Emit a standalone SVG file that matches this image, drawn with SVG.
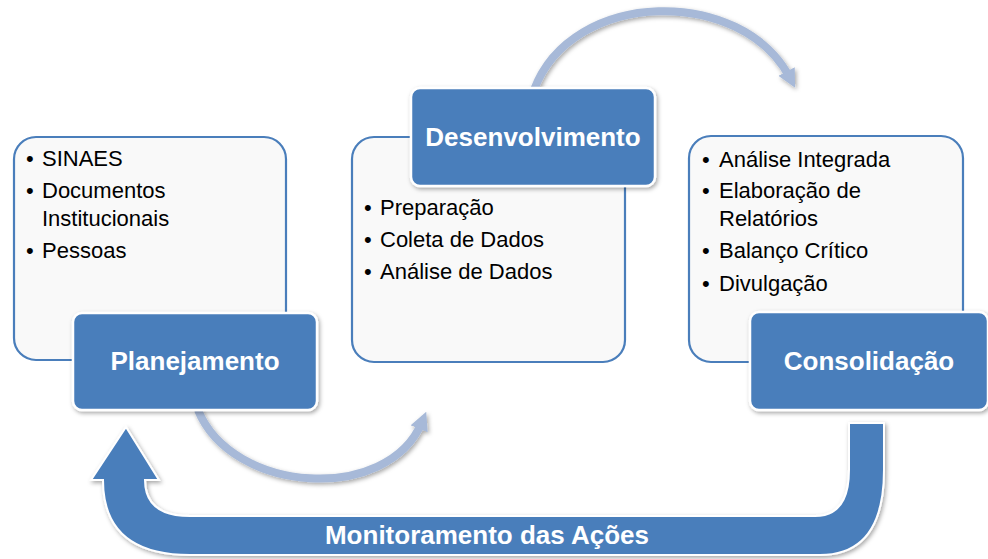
<svg xmlns="http://www.w3.org/2000/svg" width="988" height="559" viewBox="0 0 988 559">
<defs>
<style>
.panel{fill:#F9F9F9;stroke:#4A7EBB;stroke-width:2.2}
.title{fill:#4A7EBB;stroke:#FFFFFF;stroke-width:2.5}
.tt{font-family:"Liberation Sans",Arial,sans-serif;font-weight:bold;font-size:26px;fill:#FFFFFF;text-anchor:middle}
.bl{font-family:"Liberation Sans",Arial,sans-serif;font-size:22px;fill:#000000}
.arc{fill:none;stroke:#A7B9D8;stroke-width:8}
</style>
<filter id="sh" x="-10%" y="-10%" width="130%" height="130%">
<feDropShadow dx="1.5" dy="2" stdDeviation="2" flood-color="#000" flood-opacity="0.35"/>
</filter>
<marker id="ah" viewBox="0 0 10 10" refX="4" refY="5" markerWidth="2.3" markerHeight="2.3" orient="auto" markerUnits="strokeWidth">
<path d="M0,0 L10,5 L0,10 z" fill="#A7B9D8"/>
</marker>
</defs>

<g id="connectors">
<path class="arc" d="M534,90 C572,-12 742,-14 790,78" marker-end="url(#ah)" filter="url(#sh)"/>
<path class="arc" d="M198,410 C232,494 388,504 422,422" marker-end="url(#ah)" filter="url(#sh)"/>
<path id="monitor-arrow" d="M884,423 L884,470 Q884,555 820,555 L190,555 Q103,555 103,480 L91,480 L126,427 L159,480 L145,480 Q145,516 190,516 L815,516 Q849,516 849,470 L849,423 Z" fill="#4A7EBB" stroke="#FFFFFF" stroke-width="2" filter="url(#sh)"/>
<text class="tt" x="487" y="544">Monitoramento das Ações</text>
</g>

<g id="planejamento">
<rect class="panel" x="14" y="137" width="272" height="223" rx="22"/>
<text class="bl" x="26" y="166">•</text><text class="bl" x="42" y="166">SINAES</text>
<text class="bl" x="26" y="198">•</text><text class="bl" x="42" y="198">Documentos</text>
<text class="bl" x="42" y="226">Institucionais</text>
<text class="bl" x="26" y="258">•</text><text class="bl" x="42" y="258">Pessoas</text>
<rect class="title" x="73" y="313" width="244" height="97" rx="9" filter="url(#sh)"/>
<text class="tt" x="195" y="370">Planejamento</text>
</g>

<g id="desenvolvimento">
<rect class="panel" x="352" y="137" width="273" height="225" rx="22"/>
<text class="bl" x="364" y="215">•</text><text class="bl" x="380" y="215">Preparação</text>
<text class="bl" x="364" y="247">•</text><text class="bl" x="380" y="247">Coleta de Dados</text>
<text class="bl" x="364" y="279">•</text><text class="bl" x="380" y="279">Análise de Dados</text>
<rect class="title" x="411" y="88" width="244" height="98" rx="9" filter="url(#sh)"/>
<text class="tt" x="533" y="146">Desenvolvimento</text>
</g>

<g id="consolidacao">
<rect class="panel" x="689" y="136" width="274" height="226" rx="22"/>
<text class="bl" x="702" y="167">•</text><text class="bl" x="719" y="167">Análise Integrada</text>
<text class="bl" x="702" y="198">•</text><text class="bl" x="719" y="198">Elaboração de</text>
<text class="bl" x="719" y="226">Relatórios</text>
<text class="bl" x="702" y="258">•</text><text class="bl" x="719" y="258">Balanço Crítico</text>
<text class="bl" x="702" y="291">•</text><text class="bl" x="719" y="291">Divulgação</text>
<rect class="title" x="750" y="312" width="238" height="98" rx="9" filter="url(#sh)"/>
<text class="tt" x="869" y="370">Consolidação</text>
</g>
</svg>
